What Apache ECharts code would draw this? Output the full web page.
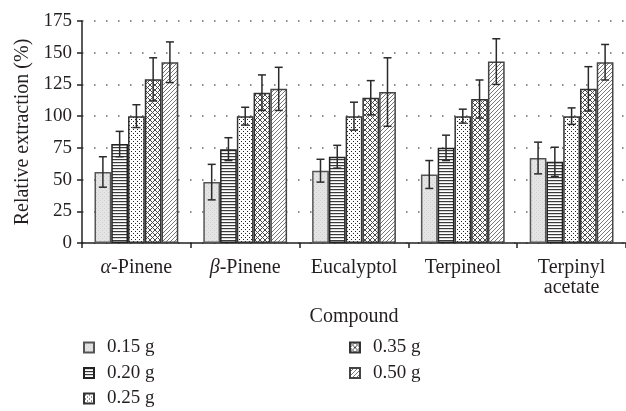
<!DOCTYPE html>
<html><head><meta charset="utf-8">
<script src="https://cdn.jsdelivr.net/npm/echarts@6/dist/echarts.min.js"></script>
<style>html,body{margin:0;padding:0;background:#fff}#c{width:626px;height:411px}</style>
</head><body><div id="c"></div>
<script>
var categories = ['α-Pinene', 'β-Pinene', 'Eucalyptol', 'Terpineol', 'Terpinyl acetate'];
var seriesNames = ['0.15 g', '0.20 g', '0.25 g', '0.35 g', '0.50 g'];
var mean015 = [56, 48, 57, 54, 67];
var mean020 = [78, 74, 68, 75, 64];
var mean025 = [100, 100, 100, 100, 100];
var mean035 = [129, 118.5, 114.5, 113.5, 121.5];
var mean050 = [142.5, 121.5, 119, 143, 142.5];
var err015 = [12, 14, 9, 11, 12.5];
var err020 = [10, 9, 9, 10, 11.5];
var err025 = [9, 7, 11, 5.5, 6.5];
var err035 = [17, 14, 13.5, 15, 17.5];
var err050 = [16, 17, 27, 18, 14];
var yTicks = [0, 25, 50, 75, 100, 125, 150, 175];

var means = [mean015, mean020, mean025, mean035, mean050];
var errs = [err015, err020, err025, err035, err050];

function makePattern(kind) {
  var c = document.createElement('canvas');
  var s = kind === 'hlines' ? 3 : (kind === 'dots' ? 4 : (kind === 'stipple' ? 4 : (kind === 'diag' ? 4 : 5)));
  c.width = s; c.height = s;
  var g = c.getContext('2d');
  g.fillStyle = '#fff'; g.fillRect(0, 0, s, s);
  if (kind === 'stipple') {
    g.fillStyle = '#e4e4e4'; g.fillRect(0, 0, s, s);
    g.fillStyle = '#cfcfcf'; g.fillRect(0, 0, 1, 1); g.fillRect(2, 2, 1, 1);
  } else if (kind === 'hlines') {
    g.fillStyle = '#3a3a3a'; g.fillRect(0, 0, s, 1.2);
  } else if (kind === 'dots') {
    g.fillStyle = '#222'; g.fillRect(1, 1, 1, 1); g.fillRect(3, 3, 1, 1);
  } else if (kind === 'cross') {
    g.strokeStyle = '#4a4a4a'; g.lineWidth = 1;
    g.beginPath();
    g.moveTo(0, 0); g.lineTo(s, s);
    g.moveTo(s, 0); g.lineTo(0, s);
    g.stroke();
  } else if (kind === 'diag') {
    g.strokeStyle = '#777'; g.lineWidth = 1;
    g.beginPath();
    g.moveTo(-1, s + 1); g.lineTo(s + 1, -1);
    g.moveTo(-1, 1); g.lineTo(1, -1);
    g.moveTo(s - 1, s + 1); g.lineTo(s + 1, s - 1);
    g.stroke();
  }
  return { image: c, repeat: 'repeat' };
}
var patterns = [makePattern('stipple'), makePattern('hlines'), makePattern('dots'), makePattern('cross'), makePattern('diag')];
var borders = ['#555', '#222', '#333', '#333', '#444'];

var FONT = '"Liberation Serif", "DejaVu Serif", serif';
var TXT = '#231f20';
var GAPPCT = 0.23;

var series = [];
for (var i = 0; i < 5; i++) {
  series.push({
    name: seriesNames[i], type: 'bar', data: means[i],
    barGap: '0%', barCategoryGap: (GAPPCT * 100) + '%',
    itemStyle: { color: patterns[i], borderColor: borders[i], borderWidth: 1.5 },
    emphasis: { disabled: true }, animation: false
  });
}
var errData = [];
for (var s = 0; s < 5; s++) {
  for (var k = 0; k < categories.length; k++) {
    errData.push([k, means[s][k] - errs[s][k], means[s][k] + errs[s][k], s]);
  }
}
series.push({
  type: 'custom', name: 'err', data: errData, z: 10, animation: false, silent: true,
  encode: { x: 0, y: [1, 2] },
  renderItem: function (params, api) {
    var cat = api.value(0), lo = api.value(1), hi = api.value(2), si = api.value(3);
    var band = api.size([1, 0])[0];
    var bw = band * (1 - GAPPCT) / 5;
    var p0 = api.coord([cat, lo]), p1 = api.coord([cat, hi]);
    var x = p0[0] - band * (1 - GAPPCT) / 2 + bw * (si + 0.5);
    var cap = 4;
    var st = { stroke: '#2a2a2a', lineWidth: 1.5 };
    return { type: 'group', children: [
      { type: 'line', shape: { x1: x, y1: p0[1], x2: x, y2: p1[1] }, style: st },
      { type: 'line', shape: { x1: x - cap, y1: p0[1], x2: x + cap, y2: p0[1] }, style: st },
      { type: 'line', shape: { x1: x - cap, y1: p1[1], x2: x + cap, y2: p1[1] }, style: st }
    ]};
  }
});

var legendText = { fontFamily: FONT, fontSize: 19, color: TXT, lineHeight: 19, padding: [0, 0, 0, 8] };
var chart = echarts.init(document.getElementById('c'), null, { renderer: 'canvas' });
chart.setOption({
  backgroundColor: '#fff',
  animation: false,
  grid: { left: 82, right: -9, top: 21, bottom: 168, containLabel: false },
  legend: [
    { data: seriesNames.slice(0, 3), orient: 'vertical', left: 83, top: 338, height: 90, padding: 0, itemWidth: 10, itemHeight: 10, itemGap: 6.5, icon: 'rect', textStyle: legendText, selectedMode: false },
    { data: seriesNames.slice(3), orient: 'vertical', left: 349, top: 338, height: 90, padding: 0, itemWidth: 10, itemHeight: 10, itemGap: 6.5, icon: 'rect', textStyle: legendText, selectedMode: false }
  ],
  xAxis: {
    type: 'category', data: categories,
    name: 'Compound', nameLocation: 'middle', nameGap: 64,
    nameTextStyle: { fontFamily: FONT, fontSize: 20, color: TXT },
    axisLine: { lineStyle: { color: '#222', width: 1.5 } },
    axisTick: { show: true, length: 5, inside: false, lineStyle: { color: '#222', width: 1.5 } },
    axisLabel: {
      interval: 0, margin: 15, fontFamily: FONT, fontSize: 20, color: TXT, lineHeight: 20,
      formatter: function (v) {
        var t = v.replace('Terpinyl acetate', 'Terpinyl\nacetate');
        if (t.charAt(0) === 'α' || t.charAt(0) === 'β') return '{i|' + t.charAt(0) + '}' + t.slice(1);
        return t;
      },
      rich: { i: { fontStyle: 'italic', fontFamily: FONT, fontSize: 20, color: TXT } }
    },
    splitLine: { show: false }
  },
  yAxis: {
    type: 'value', min: yTicks[0], max: yTicks[yTicks.length - 1], interval: 25,
    name: 'Relative extraction (%)', nameLocation: 'middle', nameGap: 49,
    nameTextStyle: { fontFamily: FONT, fontSize: 20, color: TXT },
    axisLine: { show: true, lineStyle: { color: '#222', width: 1.5 } },
    axisTick: { show: true, length: 5, lineStyle: { color: '#222', width: 1.5 } },
    axisLabel: { margin: 10, fontFamily: FONT, fontSize: 19, color: TXT },
    splitLine: { show: true, lineStyle: { color: '#666', width: 1.5, type: [1.5, 10.5] } }
  },
  series: series
});
</script></body></html>
